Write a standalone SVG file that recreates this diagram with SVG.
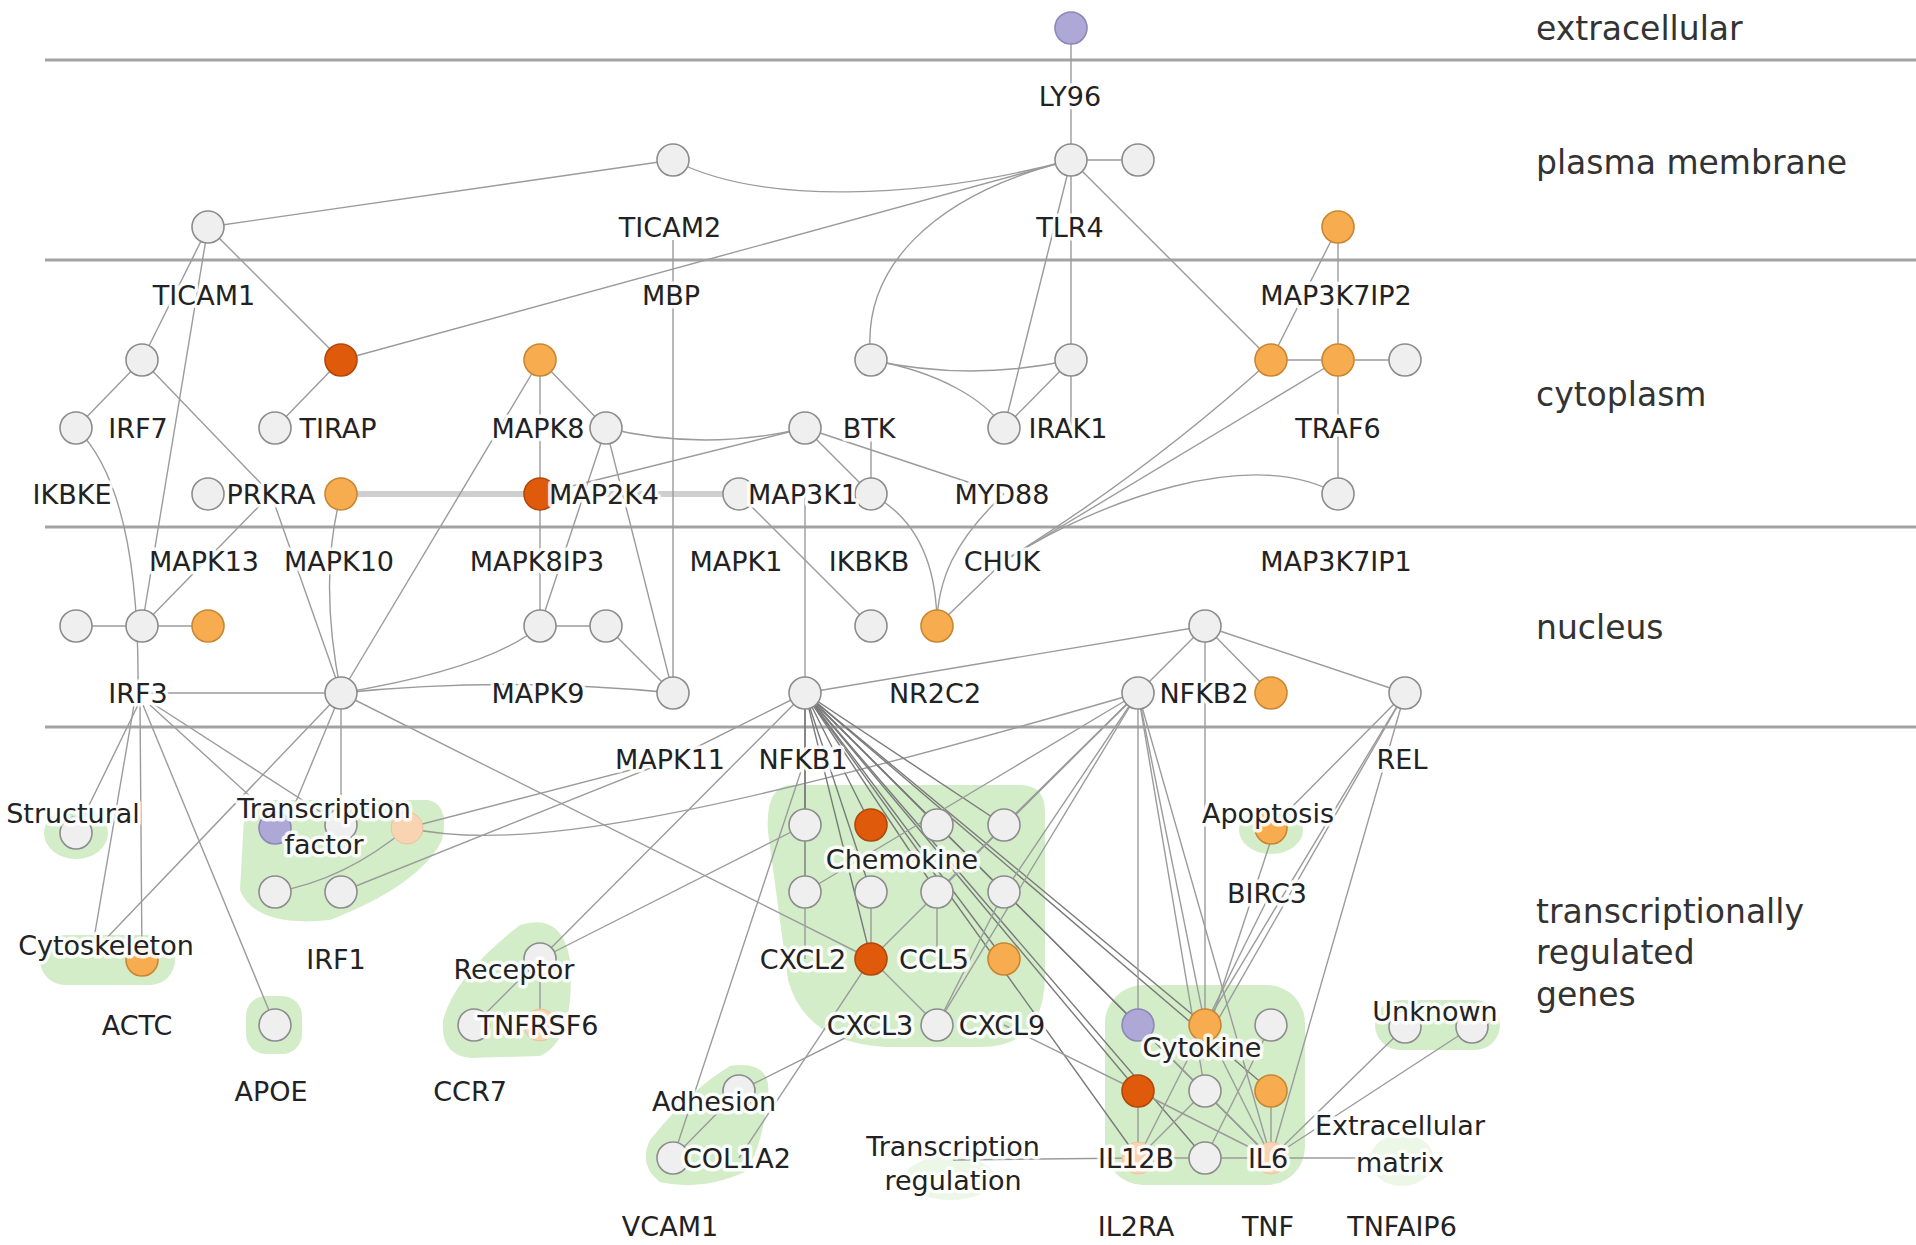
<svg xmlns="http://www.w3.org/2000/svg" width="1916" height="1245" viewBox="0 0 1916 1245">
<style>
.bg{fill:#ffffff}
.sep{stroke:#a3a3a3;stroke-width:3;fill:none}
.e{stroke:#9b9b9b;stroke-width:1.4;fill:none}
.ed{stroke:#7a7a7a;stroke-width:1.4;fill:none}
.thick{stroke:#cfcfcf;stroke-width:6;fill:none}
.blob{fill:#d4edc9}
.faint{fill:#d4edc9;opacity:0.45}
.w{fill:#efefef;stroke:#8c8c8c;stroke-width:1.6}
.o{fill:#f7ad4f;stroke:#c98632;stroke-width:1.6}
.d{fill:#e05a0c;stroke:#b3470a;stroke-width:1.6}
.p{fill:#aea8d6;stroke:#8d86b8;stroke-width:1.6}
.pe{fill:#f9d4b2;stroke:#e9c29c;stroke-width:1}
.lb{font-family:"DejaVu Sans",sans-serif;font-size:27px;fill:#222;text-anchor:middle;stroke:#ffffff;stroke-width:7;stroke-opacity:0.88;paint-order:stroke;stroke-linejoin:round}
.rg{font-family:"DejaVu Sans",sans-serif;font-size:33px;fill:#333}
</style>
<rect class="bg" x="0" y="0" width="1916" height="1245"/>
<g id="separators">
<line class="sep" x1="45" y1="60" x2="1916" y2="60"/>
<line class="sep" x1="45" y1="260" x2="1916" y2="260"/>
<line class="sep" x1="45" y1="527" x2="1916" y2="527"/>
<line class="sep" x1="45" y1="727" x2="1916" y2="727"/>
</g>
<g id="groups">
<ellipse id="g-structural" class="blob" cx="76" cy="833" rx="32" ry="26"/>
<path id="g-tf" class="blob" d="M245,800 L428,800 Q450,805 442,840 Q420,885 330,920 Q255,928 240,890 Z"/>
<rect id="g-cytoskeleton" class="blob" x="40" y="935" width="135" height="50" rx="25"/>
<rect id="g-apoe" class="blob" x="246" y="996" width="56" height="58" rx="20"/>
<path id="g-receptor" class="blob" d="M520,925 Q562,912 570,960 Q576,1040 540,1056 L470,1058 Q440,1055 443,1020 Q455,975 520,925 Z"/>
<path id="g-chemokine" class="blob" d="M792,785 L1020,785 Q1045,785 1045,812 L1045,975 Q1045,1047 980,1047 L885,1047 Q805,1042 788,980 L768,832 Q765,785 792,785 Z"/>
<ellipse id="g-apoptosis" class="blob" cx="1271" cy="830" rx="32" ry="24"/>
<rect id="g-cytokine" class="blob" x="1105" y="985" width="200" height="200" rx="38"/>
<rect id="g-unknown" class="blob" x="1375" y="1000" width="125" height="50" rx="25"/>
<path id="g-adhesion" class="blob" d="M730,1066 Q772,1060 768,1095 Q762,1150 745,1172 Q700,1192 660,1182 Q638,1165 650,1140 Q690,1090 730,1066 Z"/>
<ellipse id="g-transreg" class="faint" cx="950" cy="1178" rx="45" ry="22"/>
<ellipse id="g-ecm" class="faint" cx="1402" cy="1160" rx="32" ry="26"/>
</g>
<g id="connectors">
<path class="thick" d="M341,494 L739,494"/>
<path class="e" d="M1071,28 L1071,160"/>
<path class="e" d="M1071,160 L1138,160"/>
<path class="e" d="M208,227 L673,160"/>
<path class="e" d="M673,160 C760,205 920,200 1071,160"/>
<path class="e" d="M341,360 L1071,160"/>
<path class="e" d="M1071,160 C930,195 860,270 871,360"/>
<path class="e" d="M1071,160 L1071,360"/>
<path class="e" d="M1071,160 L1004,428"/>
<path class="e" d="M1071,160 L1271,360"/>
<path class="e" d="M871,360 Q971,382 1071,360"/>
<path class="e" d="M871,360 C940,372 985,400 1004,428"/>
<path class="e" d="M1071,360 L1004,428"/>
<path class="e" d="M1071,360 L1071,428"/>
<path class="e" d="M208,227 L142,360"/>
<path class="e" d="M208,227 L341,360"/>
<path class="e" d="M208,227 L142,626"/>
<path class="e" d="M142,360 L76,428"/>
<path class="e" d="M142,360 L271,494"/>
<path class="e" d="M271,494 L341,693"/>
<path class="e" d="M275,428 L341,360"/>
<path class="e" d="M76,428 Q140,490 138,690"/>
<path class="e" d="M142,626 L271,494"/>
<path class="e" d="M76,626 L208,626"/>
<path class="e" d="M341,494 Q318,580 341,693"/>
<path class="e" d="M540,360 L341,693"/>
<path class="e" d="M540,360 L540,494"/>
<path class="e" d="M540,360 L606,428"/>
<path class="e" d="M606,428 Q705,452 805,428"/>
<path class="e" d="M540,494 L805,428"/>
<path class="e" d="M606,428 L540,626"/>
<path class="e" d="M606,428 L673,693"/>
<path class="e" d="M540,494 L540,626"/>
<path class="e" d="M805,428 L871,494"/>
<path class="e" d="M805,428 L1004,494"/>
<path class="e" d="M871,428 L871,494"/>
<path class="e" d="M805,494 L805,693"/>
<path class="e" d="M739,494 L871,626"/>
<path class="e" d="M871,494 C920,520 937,570 937,626"/>
<path class="e" d="M1004,494 C955,540 937,580 937,626"/>
<path class="e" d="M1004,561 L937,626"/>
<path class="e" d="M1004,561 Q1150,470 1271,360"/>
<path class="e" d="M1004,561 L1338,360"/>
<path class="e" d="M1004,561 C1100,500 1250,445 1338,494"/>
<path class="e" d="M1271,360 L1338,227"/>
<path class="e" d="M1338,227 L1338,494"/>
<path class="e" d="M1271,360 L1405,360"/>
<path class="e" d="M673,240 L673,693"/>
<path class="e" d="M138,693 L341,693"/>
<path class="e" d="M341,693 C420,680 500,660 540,626"/>
<path class="e" d="M341,693 Q507,676 673,693"/>
<path class="e" d="M540,626 L606,626 L673,693"/>
<path class="e" d="M805,693 L1205,626"/>
<path class="e" d="M1205,626 L1138,693"/>
<path class="e" d="M1205,626 L1271,693"/>
<path class="e" d="M1205,626 L1405,693"/>
<path class="e" d="M1205,626 L1205,1025"/>
<path class="e" d="M138,705 L76,832"/>
<path class="e" d="M134,705 L92,950"/>
<path class="e" d="M140,705 L142,960"/>
<path class="e" d="M143,705 L275,1025"/>
<path class="e" d="M150,705 L285,828"/>
<path class="e" d="M155,705 L341,825"/>
<path class="e" d="M341,693 L100,945"/>
<path class="e" d="M341,693 L285,828"/>
<path class="e" d="M341,693 L341,825"/>
<path class="e" d="M341,693 L871,959"/>
<path class="e" d="M407,828 C520,852 700,820 1138,693"/>
<path class="e" d="M407,828 L673,759"/>
<path class="e" d="M341,892 L673,759"/>
<path class="e" d="M275,892 Q345,880 407,828"/>
<path class="e" d="M805,693 L673,759"/>
<path class="e" d="M805,693 L540,959"/>
<path class="e" d="M805,759 L673,1158"/>
<path class="e" d="M540,959 L805,825"/>
<path class="e" d="M474,1025 L540,959"/>
<path class="e" d="M540,1025 L540,959"/>
<path class="e" d="M739,1091 L871,1025"/>
<path class="e" d="M739,1158 L871,959"/>
<path class="e" d="M673,1158 L739,1091"/>
<path class="ed" d="M805,693 L805,825"/>
<path class="ed" d="M805,693 L871,825"/>
<path class="ed" d="M805,693 L937,825"/>
<path class="ed" d="M805,693 L1004,825"/>
<path class="ed" d="M805,693 L805,892"/>
<path class="ed" d="M805,693 L871,892"/>
<path class="ed" d="M805,693 L937,892"/>
<path class="ed" d="M805,693 L871,959"/>
<path class="ed" d="M805,693 L1004,959"/>
<path class="ed" d="M805,693 L1138,1025"/>
<path class="ed" d="M805,693 L1138,1091"/>
<path class="ed" d="M805,693 L1138,1158"/>
<path class="ed" d="M805,693 L1205,1025"/>
<path class="ed" d="M805,693 L1271,1091"/>
<path class="ed" d="M805,693 L1271,1158"/>
<path class="ed" d="M805,693 L1205,1158"/>
<path class="e" d="M1138,693 L1004,825"/>
<path class="e" d="M1138,693 L1004,892"/>
<path class="e" d="M1138,693 L937,892"/>
<path class="e" d="M1138,693 L871,959"/>
<path class="e" d="M1138,693 L937,1025"/>
<path class="e" d="M1138,693 L805,892"/>
<path class="e" d="M1138,693 L1138,1025"/>
<path class="e" d="M1138,693 L1205,1025"/>
<path class="e" d="M1138,693 L1205,1091"/>
<path class="e" d="M1138,693 L1271,1158"/>
<path class="e" d="M1405,693 L1271,828"/>
<path class="e" d="M1405,693 L1205,1025"/>
<path class="e" d="M1405,693 L1215,1025"/>
<path class="e" d="M1405,693 L1271,1158"/>
<path class="e" d="M1271,892 L1205,1025"/>
<path class="e" d="M1271,840 L1210,1025"/>
<path class="e" d="M1405,1027 L1271,1158"/>
<path class="e" d="M1472,1027 L1271,1158"/>
<path class="e" d="M1138,1158 L1405,1158"/>
<path class="e" d="M1138,1091 L1138,1158"/>
<path class="e" d="M1205,1025 L1138,1158"/>
<path class="e" d="M1205,1091 L1138,1158"/>
<path class="e" d="M1138,1025 L1271,1158"/>
<path class="e" d="M1138,1091 L1271,1158"/>
<path class="e" d="M1205,1025 L1271,1158"/>
<path class="e" d="M1271,1091 L1271,1158"/>
<path class="e" d="M1271,1025 L1205,1158"/>
<path class="e" d="M1004,1025 L1138,1091"/>
<path class="e" d="M953,1160 L1138,1158"/>
<path class="e" d="M871,892 L871,959"/>
<path class="e" d="M805,892 L805,959"/>
<path class="e" d="M871,959 L937,1025"/>
<path class="e" d="M937,1025 L1004,892"/>
<path class="e" d="M937,892 L937,959"/>
</g>
<g id="nodes">
<g id="n-ext"><circle class="p" cx="1071" cy="28" r="16"/></g>
<g id="n-ticam2"><circle class="w" cx="673" cy="160" r="16"/></g>
<g id="n-tlr4"><circle class="w" cx="1071" cy="160" r="16"/></g>
<g id="n-pm3"><circle class="w" cx="1138" cy="160" r="16"/></g>
<g id="n-ticam1"><circle class="w" cx="208" cy="227" r="16"/></g>
<g id="n-map3k7ip2"><circle class="o" cx="1338" cy="227" r="16"/></g>
<g id="n-irf7"><circle class="w" cx="142" cy="360" r="16"/></g>
<g id="n-tirap"><circle class="d" cx="341" cy="360" r="16"/></g>
<g id="n-mapk8"><circle class="o" cx="540" cy="360" r="16"/></g>
<g id="n-btk"><circle class="w" cx="871" cy="360" r="16"/></g>
<g id="n-irak1"><circle class="w" cx="1071" cy="360" r="16"/></g>
<g id="n-c18"><circle class="o" cx="1271" cy="360" r="16"/></g>
<g id="n-traf6"><circle class="o" cx="1338" cy="360" r="16"/></g>
<g id="n-c20"><circle class="w" cx="1405" cy="360" r="16"/></g>
<g id="n-ikbke"><circle class="w" cx="76" cy="428" r="16"/></g>
<g id="n-prkra"><circle class="w" cx="275" cy="428" r="16"/></g>
<g id="n-map2k4"><circle class="w" cx="606" cy="428" r="16"/></g>
<g id="n-map3k1"><circle class="w" cx="805" cy="428" r="16"/></g>
<g id="n-myd88"><circle class="w" cx="1004" cy="428" r="16"/></g>
<g id="n-mapk13"><circle class="w" cx="208" cy="494" r="16"/></g>
<g id="n-mapk10"><circle class="o" cx="341" cy="494" r="16"/></g>
<g id="n-mapk8ip3"><circle class="d" cx="540" cy="494" r="16"/></g>
<g id="n-mapk1"><circle class="w" cx="739" cy="494" r="16"/></g>
<g id="n-ikbkb"><circle class="w" cx="871" cy="494" r="16"/></g>
<g id="n-map3k7ip1"><circle class="w" cx="1338" cy="494" r="16"/></g>
<g id="n-nu1"><circle class="w" cx="76" cy="626" r="16"/></g>
<g id="n-irf3"><circle class="w" cx="142" cy="626" r="16"/></g>
<g id="n-nu3"><circle class="o" cx="208" cy="626" r="16"/></g>
<g id="n-mapk9"><circle class="w" cx="540" cy="626" r="16"/></g>
<g id="n-nu5"><circle class="w" cx="606" cy="626" r="16"/></g>
<g id="n-nr2c2a"><circle class="w" cx="871" cy="626" r="16"/></g>
<g id="n-nr2c2b"><circle class="o" cx="937" cy="626" r="16"/></g>
<g id="n-nfkb2top"><circle class="w" cx="1205" cy="626" r="16"/></g>
<g id="n-mapk11"><circle class="w" cx="341" cy="693" r="16"/></g>
<g id="n-mbp"><circle class="w" cx="673" cy="693" r="16"/></g>
<g id="n-nfkb1"><circle class="w" cx="805" cy="693" r="16"/></g>
<g id="n-nfkb2"><circle class="w" cx="1138" cy="693" r="16"/></g>
<g id="n-nfkb2o"><circle class="o" cx="1271" cy="693" r="16"/></g>
<g id="n-rel"><circle class="w" cx="1405" cy="693" r="16"/></g>
<g id="n-structural"><circle class="w" cx="76" cy="833" r="16"/></g>
<g id="n-tf1"><circle class="p" cx="275" cy="828" r="16"/></g>
<g id="n-tf2"><circle class="w" cx="341" cy="825" r="16"/></g>
<g id="n-tf3"><circle class="pe" cx="407" cy="828" r="16"/></g>
<g id="n-tf4"><circle class="w" cx="275" cy="892" r="16"/></g>
<g id="n-irf1"><circle class="w" cx="341" cy="892" r="16"/></g>
<g id="n-actc"><circle class="o" cx="142" cy="960" r="16"/></g>
<g id="n-apoe"><circle class="w" cx="275" cy="1025" r="16"/></g>
<g id="n-rec1"><circle class="w" cx="540" cy="959" r="16"/></g>
<g id="n-ccr7"><circle class="w" cx="474" cy="1025" r="16"/></g>
<g id="n-tnfrsf6"><circle class="pe" cx="540" cy="1025" r="16"/></g>
<g id="n-ch1"><circle class="w" cx="805" cy="825" r="16"/></g>
<g id="n-ch2"><circle class="d" cx="871" cy="825" r="16"/></g>
<g id="n-ch3"><circle class="w" cx="937" cy="825" r="16"/></g>
<g id="n-ch4"><circle class="w" cx="1004" cy="825" r="16"/></g>
<g id="n-ch5"><circle class="w" cx="805" cy="892" r="16"/></g>
<g id="n-ch6"><circle class="w" cx="871" cy="892" r="16"/></g>
<g id="n-ch7"><circle class="w" cx="937" cy="892" r="16"/></g>
<g id="n-ch8"><circle class="w" cx="1004" cy="892" r="16"/></g>
<g id="n-cxcl2"><circle class="d" cx="871" cy="959" r="16"/></g>
<g id="n-ccl5"><circle class="o" cx="1004" cy="959" r="16"/></g>
<g id="n-cxcl3"><circle class="w" cx="937" cy="1025" r="16"/></g>
<g id="n-adh1"><circle class="w" cx="739" cy="1091" r="16"/></g>
<g id="n-vcam1"><circle class="w" cx="673" cy="1158" r="16"/></g>
<g id="n-birc3"><circle class="o" cx="1271" cy="828" r="16"/></g>
<g id="n-cy1"><circle class="p" cx="1138" cy="1025" r="16"/></g>
<g id="n-cy2"><circle class="o" cx="1205" cy="1025" r="16"/></g>
<g id="n-cy3"><circle class="w" cx="1271" cy="1025" r="16"/></g>
<g id="n-cy4"><circle class="d" cx="1138" cy="1091" r="16"/></g>
<g id="n-cy5"><circle class="w" cx="1205" cy="1091" r="16"/></g>
<g id="n-cy6"><circle class="o" cx="1271" cy="1091" r="16"/></g>
<g id="n-il2ra"><circle class="pe" cx="1138" cy="1158" r="16"/></g>
<g id="n-cy8"><circle class="w" cx="1205" cy="1158" r="16"/></g>
<g id="n-tnf"><circle class="pe" cx="1271" cy="1158" r="16"/></g>
<g id="n-unk1"><circle class="w" cx="1405" cy="1027" r="16"/></g>
<g id="n-unk2"><circle class="w" cx="1472" cy="1027" r="16"/></g>
</g>
<g id="labels">
<text class="lb" x="1070" y="106">LY96</text>
<text class="lb" x="670" y="237">TICAM2</text>
<text class="lb" x="1070" y="237">TLR4</text>
<text class="lb" x="204" y="305">TICAM1</text>
<text class="lb" x="671" y="305">MBP</text>
<text class="lb" x="1336" y="305">MAP3K7IP2</text>
<text class="lb" x="138" y="438">IRF7</text>
<text class="lb" x="338" y="438">TIRAP</text>
<text class="lb" x="538" y="438">MAPK8</text>
<text class="lb" x="869" y="438">BTK</text>
<text class="lb" x="1068" y="438">IRAK1</text>
<text class="lb" x="1338" y="438">TRAF6</text>
<text class="lb" x="72" y="504">IKBKE</text>
<text class="lb" x="271" y="504">PRKRA</text>
<text class="lb" x="604" y="504">MAP2K4</text>
<text class="lb" x="803" y="504">MAP3K1</text>
<text class="lb" x="1002" y="504">MYD88</text>
<text class="lb" x="204" y="571">MAPK13</text>
<text class="lb" x="339" y="571">MAPK10</text>
<text class="lb" x="537" y="571">MAPK8IP3</text>
<text class="lb" x="736" y="571">MAPK1</text>
<text class="lb" x="869" y="571">IKBKB</text>
<text class="lb" x="1002" y="571">CHUK</text>
<text class="lb" x="1336" y="571">MAP3K7IP1</text>
<text class="lb" x="138" y="703">IRF3</text>
<text class="lb" x="538" y="703">MAPK9</text>
<text class="lb" x="935" y="703">NR2C2</text>
<text class="lb" x="1204" y="703">NFKB2</text>
<text class="lb" x="670" y="769">MAPK11</text>
<text class="lb" x="803" y="769">NFKB1</text>
<text class="lb" x="1402" y="769">REL</text>
<text class="lb" x="73" y="823">Structural</text>
<text class="lb" x="324" y="818">Transcription</text>
<text class="lb" x="324" y="854">factor</text>
<text class="lb" x="1268" y="823">Apoptosis</text>
<text class="lb" x="902" y="869">Chemokine</text>
<text class="lb" x="1267" y="903">BIRC3</text>
<text class="lb" x="106" y="955">Cytoskeleton</text>
<text class="lb" x="336" y="969">IRF1</text>
<text class="lb" x="514" y="979">Receptor</text>
<text class="lb" x="803" y="969">CXCL2</text>
<text class="lb" x="934" y="969">CCL5</text>
<text class="lb" x="1435" y="1021">Unknown</text>
<text class="lb" x="137" y="1035">ACTC</text>
<text class="lb" x="538" y="1035">TNFRSF6</text>
<text class="lb" x="870" y="1035">CXCL3</text>
<text class="lb" x="1002" y="1035">CXCL9</text>
<text class="lb" x="1202" y="1057">Cytokine</text>
<text class="lb" x="271" y="1101">APOE</text>
<text class="lb" x="470" y="1101">CCR7</text>
<text class="lb" x="714" y="1111">Adhesion</text>
<text class="lb" x="1400" y="1135">Extracellular</text>
<text class="lb" x="1400" y="1172">matrix</text>
<text class="lb" x="953" y="1156">Transcription</text>
<text class="lb" x="953" y="1190">regulation</text>
<text class="lb" x="737" y="1168">COL1A2</text>
<text class="lb" x="1136" y="1168">IL12B</text>
<text class="lb" x="1268" y="1168">IL6</text>
<text class="lb" x="670" y="1236">VCAM1</text>
<text class="lb" x="1136" y="1236">IL2RA</text>
<text class="lb" x="1268" y="1236">TNF</text>
<text class="lb" x="1402" y="1236">TNFAIP6</text>
</g>
<g id="regions">
<text class="rg" x="1536" y="40">extracellular</text>
<text class="rg" x="1536" y="174">plasma membrane</text>
<text class="rg" x="1536" y="406">cytoplasm</text>
<text class="rg" x="1536" y="639">nucleus</text>
<text class="rg" x="1536" y="923">transcriptionally</text>
<text class="rg" x="1536" y="964">regulated</text>
<text class="rg" x="1536" y="1006">genes</text>
</g>
</svg>
